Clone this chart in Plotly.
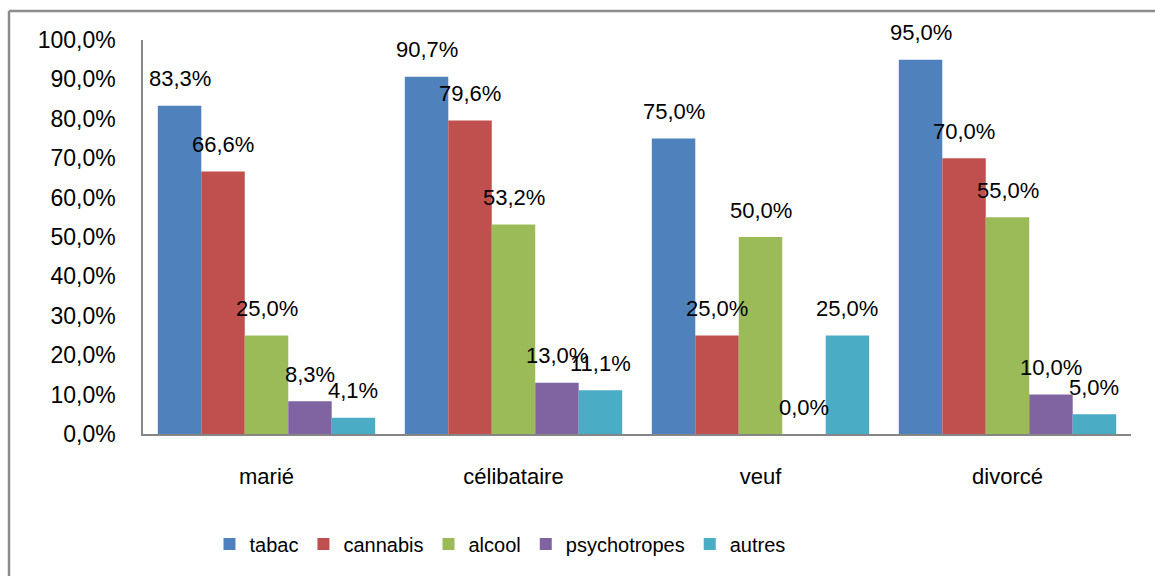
import plotly.graph_objects as go

# Statut matrimonial et consommation de substances (%)
categories = ["marié", "célibataire", "veuf", "divorcé"]
series_names = ["tabac", "cannabis", "alcool", "psychotropes", "autres"]
tabac = [83.3, 90.7, 75.0, 95.0]
cannabis = [66.6, 79.6, 25.0, 70.0]
alcool = [25.0, 53.2, 50.0, 55.0]
psychotropes = [8.3, 13.0, 0.0, 10.0]
autres = [4.1, 11.1, 25.0, 5.0]
y_ticks = [0, 10, 20, 30, 40, 50, 60, 70, 80, 90, 100]

series_values = [tabac, cannabis, alcool, psychotropes, autres]
colors = ["#4F81BD", "#C0504D", "#9BBB59", "#8064A2", "#4BACC6"]

W, H = 1155, 576
M_L, M_R, M_T, M_B = 143, 24, 40, 142
BARGAP = 0.12
FONT = "Liberation Sans"


def fr(v):
    return f"{v:.1f}".replace(".", ",") + "%"


fig = go.Figure()
for name, vals, col in zip(series_names, series_values, colors):
    fig.add_trace(go.Bar(
        x=categories, y=vals, name=name,
        marker=dict(color=col, line=dict(width=0)),
    ))

# data labels above each bar, centred on the bar within its group
plot_w = W - M_L - M_R
bar_w = plot_w / len(categories) * (1 - BARGAP) / len(series_names)
n = len(series_names)
for i, vals in enumerate(series_values):
    off = (i - (n - 1) / 2) * bar_w
    for cat, v in zip(categories, vals):
        fig.add_annotation(
            x=cat, y=v, xref="x", yref="y", text=fr(v), showarrow=False,
            xshift=off, yshift=27, yanchor="middle", xanchor="center",
            font=dict(family=FONT, size=22, color="#000000"),
        )

# chart-area frame (left and top edges visible)
plot_h = H - M_T - M_B
fx0 = (9 - M_L) / plot_w
fy1 = 1 + (M_T - 11) / plot_h
frame = dict(color="#8C8C8C", width=2.5)
fig.add_shape(type="line", xref="paper", yref="paper",
              x0=fx0, x1=fx0, y0=-1, y1=fy1, line=frame)
fig.add_shape(type="line", xref="paper", yref="paper",
              x0=fx0, x1=2, y0=fy1, y1=fy1, line=frame)

fig.update_layout(
    width=W, height=H,
    margin=dict(l=M_L, r=M_R, t=M_T, b=M_B),
    paper_bgcolor="white", plot_bgcolor="white",
    barmode="group", bargap=BARGAP, bargroupgap=0,
    font=dict(family=FONT, size=22, color="#000000"),
    showlegend=True,
    legend=dict(
        orientation="h", x=(500 - M_L) / plot_w, xanchor="center",
        y=(M_T + plot_h - 544) / plot_h, yanchor="middle",
        font=dict(family=FONT, size=20, color="#000000"),
        bgcolor="rgba(0,0,0,0)", itemwidth=30,
    ),
)
fig.update_yaxes(
    range=[0, 100], tickvals=y_ticks, ticktext=[fr(t) for t in y_ticks],
    showgrid=False, zeroline=False, showline=True, linecolor="#868686",
    linewidth=1.5, ticks="", ticklabelstandoff=21,
    tickfont=dict(family=FONT, size=23),
)
fig.update_xaxes(
    showgrid=False, showline=True, linecolor="#868686", linewidth=1.5,
    ticks="", ticklabelstandoff=22, tickfont=dict(family=FONT, size=22),
)

fig.write_html("out.html")
